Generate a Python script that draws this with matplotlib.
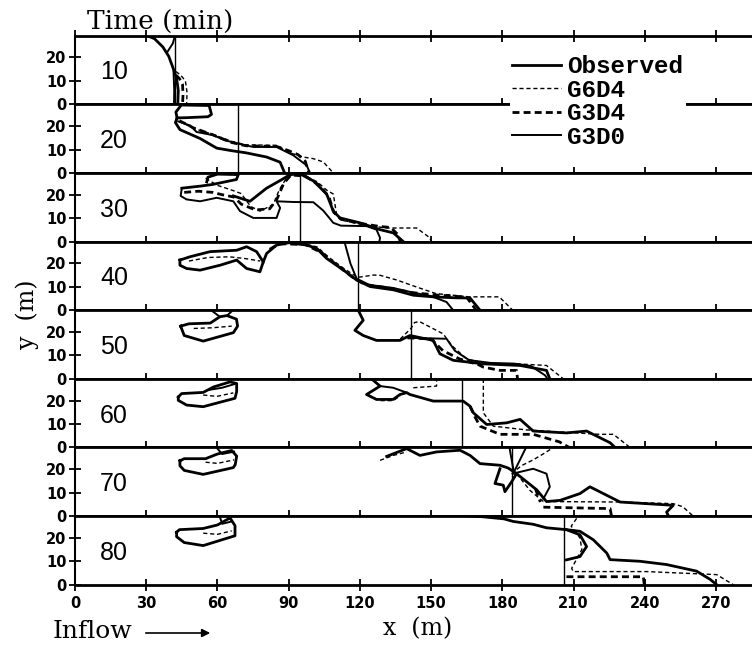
import numpy as np
import matplotlib
matplotlib.use("Agg")
import matplotlib.pyplot as plt

# flood front outlines per time step, (x m, y m); each series is a list of segments
times = [10, 20, 30, 40, 50, 60, 70, 80]
marker_x = [42, 68.7, 94.8, 119, 141.5, 163, 184, 206]

obs_10 = [[(30.5, 29.3), (33.5, 28), (37, 24.5), (39.5, 20.5), (41.3, 15.5), (42.8, 11), (43.5, 6), (43.3, 0)]]
g6_10 = [[(42.5, 14), (44.5, 12.5), (46.5, 10), (47.2, 5), (47, 0)]]
g34_10 = [[(42.5, 12.5), (44, 11), (45.3, 8.5), (45.5, 4), (45.3, 0)]]
g30_10 = [[(42.1, 29.3), (41.2, 26), (39, 22.5)], [(41.5, 14), (41.8, 6), (41.7, 0)]]

obs_20 = [[(43, 23.5), (42.5, 26), (44.8, 29), (56.5, 28.8), (57.5, 25), (56, 24), (47, 23.6), (43, 23.5),
           (42.3, 21.5), (44.2, 18.5), (48, 16.8), (52.7, 14.7), (59.7, 10.6), (66, 9.5), (72, 8.6),
           (80.7, 6.8), (86.4, 4.6), (88.3, 0)]]
g6_20 = [[(44, 22), (50, 19), (58, 16.5), (66, 13.5), (72, 12), (85, 11.8), (90.6, 8.6), (96, 6.8),
          (100.4, 6.1), (104.6, 4.7), (108.8, 0)]]
g34_20 = [[(44, 22.3), (50, 19.2), (58, 16.3), (66, 13), (72, 11.6), (85, 11.3), (90, 9.5), (94, 7.8),
           (97, 5), (98.5, 0)]]
g30_20 = [[(43.5, 22), (48.4, 20.3), (51.2, 17.5), (58.3, 16.1), (63, 14), (68.8, 12.5), (75.1, 11.1),
           (84.9, 11.1), (92, 7.5), (97.6, 3.2), (99, 0)]]

obs_30 = [[(45, 22.8), (53, 23.7), (58, 24.4), (68, 26.5), (68.8, 28.6), (60, 28.8), (56, 27.5), (55.5, 25.5)],
          [(66.7, 19.5), (73.7, 17.2), (80.7, 22.8), (87, 26.4), (90.6, 28.6), (94.8, 28.9), (100.4, 25.9),
           (106, 20.3), (108.8, 13), (111.6, 10.1), (120, 8), (128.5, 5.1), (134.1, 3.7), (138.3, 0)]]
g6_30 = [[(55, 27), (60, 24), (66, 22), (70, 20.5), (74, 15), (77.9, 13), (83.5, 15.8), (86, 22), (89, 27),
          (92, 28.8), (96, 28.5), (102, 25.5), (106, 22), (108.8, 20.3), (110.2, 11.5), (113, 9), (122, 7),
          (131.3, 5.8), (143.9, 5.8), (149.5, 1.6), (150, 0)]]
g34_30 = [[(46, 21), (52, 21.5), (58, 21), (62, 20), (67, 19), (70, 16), (76, 13.5), (82, 14), (85, 18),
           (88, 25), (91, 28.4), (97, 28), (103, 24), (107, 19), (109, 12.5), (112, 9.5), (120, 7.8),
           (128, 6.5), (133, 6), (136, 3), (137, 0)]]
g30_30 = [[(45, 22.8), (44.5, 19.5), (47, 18), (52.7, 17.2), (59.7, 18.7), (66.7, 17.2), (69.5, 13),
           (75.1, 10.1), (84.9, 10.1), (86.4, 14.4), (84.9, 17.2), (92, 16.9), (100.4, 16.8), (104.6, 13.2),
           (108.8, 8), (112, 6.8), (122.8, 6.6), (127, 5.1), (128.5, 1.6), (128.2, 0)]]

obs_40 = [[(44.2, 21.4), (48.4, 22.8), (56.9, 25), (68.1, 25.6), (72.3, 27.1), (76.5, 25), (79.3, 20.6),
           (77.9, 16.4), (72.3, 17.8), (68.1, 21.4), (61.1, 19.2), (52.7, 17.1), (47, 17.8), (44.2, 19.2),
           (44.2, 21.4)],
          [(79.3, 20.6), (80.7, 24.2), (84.9, 27.8), (90, 28.8), (97.6, 27.8), (101.8, 26.4), (106, 22.1),
           (113, 17.2), (118.6, 12.9), (124.3, 10.1), (134.1, 8.7), (142.5, 6.4), (150.9, 5.7), (160, 5.3),
           (166.4, 5.2), (170.6, 0)]]
g6_40 = [[(48, 21), (56, 22.5), (65, 22.8), (72, 22), (78, 21)],
         [(86, 28.5), (95, 28.8), (102, 27), (107, 22.5), (113, 18), (119, 14), (125.7, 15), (128.5, 14.9),
          (135.5, 12.9), (143.6, 10), (152, 7.1), (166, 5.7), (178.7, 5.7), (184.4, 0)]]
g34_40 = [[(82, 26), (86, 28.4), (97, 28), (104, 24.5), (110, 19.5), (117, 14), (122, 11), (132, 9.5),
           (142, 7.5), (152, 6.5), (160, 6), (165, 5.5), (169, 0)]]
g30_40 = [[(113.7, 28.5), (116, 20), (118.6, 13.5), (124, 10.8), (134, 9.5), (142.5, 7.5), (150, 6),
           (156.5, 3.5), (159.3, 0)]]

obs_50 = [[(44.5, 22.5), (48, 23.5), (57, 23.8), (61, 26.5), (64, 27), (68, 25.5), (68.5, 22.5), (66.7, 19.7),
           (54, 16.1), (46, 18.5), (44.5, 22.5)],
          [(119.3, 29.3), (121.4, 25), (117.9, 20.7), (121.4, 18.5), (127, 16.4), (136.9, 16.4), (141.1, 18.5),
           (150.9, 16.4), (153.7, 10.7), (159.3, 7.9), (172, 6.4), (187.5, 5.7), (198.6, 3.6), (200, 0)]]
g6_50 = [[(50, 21.5), (58, 21.8), (66, 22.5)],
         [(137, 17), (141.5, 21.5), (143, 24), (145, 24.5), (155.1, 19.2), (158.6, 14.3), (165, 8.5),
          (173.4, 6.4), (186, 6.4), (198.6, 5.7), (205.7, 0)]]
g34_50 = [[(140, 17.5), (150, 17), (155, 12), (162, 8.5), (170, 6), (172, 5), (179, 3.6), (186, 3.6), (186.4, 0)]]
g30_50 = [[(58, 28.8), (61, 26.5)], [(66, 28.8), (64, 27)],
          [(141, 17.5), (156.5, 17.1), (160, 12), (166, 8), (175, 6.8), (185, 6.5), (192, 5.5), (198, 1.5), (199, 0)]]

obs_60 = [[(43.5, 21.5), (44.9, 23), (54, 23.5), (58.3, 25.8), (65.3, 28), (68.1, 27.3), (68.1, 23.9), (67.4, 21),
           (54, 17.4), (47, 18.1), (43.5, 20.1), (43.5, 21.5)],
          [(124.9, 29.3), (128.5, 26.2), (122.8, 22.6), (127, 20.5), (134, 20.5), (136.9, 22.6), (139.7, 23.4),
           (141.1, 22.6), (150.9, 19.8), (163.5, 19.8), (166.4, 17.6), (167.8, 14.8), (173.4, 9.8),
           (181.8, 10.5), (187.5, 12), (193, 7), (207, 6.2), (215.5, 7), (225.4, 2), (227.5, 0)]]
g6_60 = [[(54, 22.4), (59.7, 21.8), (66.7, 23.3)],
         [(123.5, 22.5), (128, 20), (134, 20), (137, 22)],
         [(142.5, 25.5), (152.3, 26.2), (152.3, 29.3)],
         [(172, 29.3), (172, 14.8), (176.2, 9.1), (190, 7.5), (221, 5.6), (226.8, 5.6), (233.8, 0)]]
g34_60 = [[(166.4, 17.6), (168.5, 13), (170.6, 9.1), (179, 5.6), (193, 5.6), (204, 2.4), (208.2, 0)]]
g30_60 = [[(56, 24.5), (62, 25.5), (67, 27)],
          [(128.5, 26.2), (134, 25.5), (139.7, 23.4)]]

obs_70 = [[(44.2, 23.6), (46, 24.5), (55, 24.5), (60, 26.5), (66, 28), (68.1, 25.6), (67.5, 22), (66.7, 20.7),
           (54, 17.8), (46, 19.5), (44.2, 21.5), (44.2, 23.6)],
          [(131.3, 25.5), (139.7, 28.8), (145.3, 25.9), (152.3, 27.4), (162.2, 28.1), (166.4, 25.9),
           (170.6, 22.4), (179, 21.7), (182.5, 20.5), (186, 18.1), (194.5, 11.2), (198.6, 6.2), (204.3, 6.7),
           (212.7, 9.6), (216.9, 12.5), (229.6, 6), (240.8, 5.3), (252, 4.6), (249.2, 1.7), (250, 0)],
          [(179, 20.2), (176.9, 13.9), (180.4, 13.2), (181.1, 10.4), (183.9, 14.6), (186, 18.1)]]
g6_70 = [[(55, 23), (60, 22.5), (67, 24)],
         [(128.5, 23.8), (134.1, 25.9), (139.7, 27.4)],
         [(183.9, 18), (188, 21.5), (193, 24), (198, 27), (201.5, 29.3)],
         [(186, 18.1), (191.7, 10.9), (197.3, 6.2), (229.6, 6), (252, 5.3), (256, 4), (260.4, 0)]]
g34_70 = [[(194, 11.5), (196, 6)], [(197.3, 3.8), (225.4, 3.2), (226, 0)]]
g30_70 = [[(60, 28.8), (62, 26.5), (67, 27.5)],
          [(186, 18.5), (193, 20.2), (198.6, 18.1), (200, 12.5), (197.3, 7.4)],
          [(183, 29.3), (185, 18)], [(190, 29.3), (185, 19)]]

obs_80 = [[(42.8, 22.4), (44, 23.5), (54, 24), (60, 25.5), (65.3, 28.5), (67.4, 25.2), (67.4, 20.9), (54, 16.7),
           (46, 18), (42.8, 20.5), (42.8, 22.4)],
          [(172, 29.3), (179, 28.6), (184.6, 27), (193, 25.8), (198.6, 24.3), (207, 23.5), (212.7, 22.8),
           (218.3, 19.2), (224, 13.5), (225.4, 10.7), (238, 10), (249.2, 8.6), (261.8, 5.8), (267.5, 2.3),
           (270.3, 0)],
          [(207, 23.5), (212.7, 21.3), (215.5, 16.3), (212.7, 12), (207, 10.6)]]
g6_80 = [[(54, 22), (60, 21.5), (66, 23)],
         [(211.3, 28.3), (209, 25), (212.7, 20), (213.5, 15), (209.2, 7), (209.9, 5.6), (240.8, 5.6),
          (270.3, 4.3), (277.3, 0)]]
g34_80 = [[(207, 3.4), (239.4, 3.4), (239.8, 0)]]
g30_80 = [[(61, 29), (62, 26), (66, 27)], [(165, 29.3), (172, 28.8), (180, 28)]]

obs_all = [obs_10, obs_20, obs_30, obs_40, obs_50, obs_60, obs_70, obs_80]
g6_all = [g6_10, g6_20, g6_30, g6_40, g6_50, g6_60, g6_70, g6_80]
g34_all = [g34_10, g34_20, g34_30, g34_40, g34_50, g34_60, g34_70, g34_80]
g30_all = [g30_10, g30_20, g30_30, g30_40, g30_50, g30_60, g30_70, g30_80]

styles = [
    ("Observed", obs_all, dict(color="k", lw=2.0, ls="-")),
    ("G6D4", g6_all, dict(color="k", lw=1.0, ls=(0, (3, 2)))),
    ("G3D4", g34_all, dict(color="k", lw=2.0, ls=(0, (2.5, 1.5)))),
    ("G3D0", g30_all, dict(color="k", lw=1.4, ls="-")),
]

W, H = 752, 648
x0px, top_px, bot_px = 75, 35.7, 584.7
ph = (bot_px - top_px) / 8

fig = plt.figure(figsize=(W / 100, H / 100), dpi=100)
axes = []
for i, t in enumerate(times):
    b = 1 - (top_px + ph * (i + 1)) / H
    ax = fig.add_axes([x0px / W, b, 1 - x0px / W, ph / H])
    axes.append(ax)
    ax.set_xlim(0, (W - x0px) / 2.374)
    ax.set_ylim(0, 29.3)
    for name, series, st in styles:
        for j, seg in enumerate(series[i]):
            xs, ys = zip(*seg)
            ax.plot(xs, ys, label=name if (i == 0 and j == 0) else None,
                    solid_joinstyle="round", **st)
    ax.axvline(marker_x[i], color="k", lw=1.0)
    ax.text(16.5, 13.6, str(t), fontsize=18, family="Liberation Sans",
            ha="center", va="center")
    ax.spines["right"].set_visible(False)
    ax.spines["left"].set_linewidth(1.5)
    ax.spines["top"].set_linewidth(2.0)
    ax.spines["bottom"].set_linewidth(2.0)
    ax.set_xticks(np.arange(0, 271, 30))
    ax.set_yticks([0, 10, 20])
    ax.tick_params(axis="x", direction="inout", length=9, width=1.3,
                   top=(i == 0), labelbottom=(i == 7))
    ax.tick_params(axis="y", direction="inout", length=8, width=1.3, pad=2)
    for lab in ax.get_yticklabels() + ax.get_xticklabels():
        lab.set_fontweight("bold")
        lab.set_fontsize(10.5)

h, l = axes[0].get_legend_handles_labels()
fig.legend(h, l, loc="upper left", bbox_to_anchor=(510 / W, 1 - 53 / H),
           prop=dict(family="Liberation Mono", weight="bold", size=17.5),
           frameon=True, facecolor="white", edgecolor="none", framealpha=1,
           fancybox=False, handlelength=2.0, handletextpad=0.25,
           labelspacing=0.02, borderpad=0.1, borderaxespad=0)

fig.text(160 / W, 1 - 22 / H, "Time (min)", fontsize=19, family="DejaVu Serif",
         ha="center", va="center")
fig.text(27 / W, 1 - 314 / H, "y  (m)", fontsize=17, family="DejaVu Serif",
         ha="center", va="center", rotation=90)
fig.text(418 / W, 1 - 629 / H, "x  (m)", fontsize=17, family="DejaVu Serif",
         ha="center", va="center")
fig.text(93 / W, 1 - 631 / H, "Inflow", fontsize=18, family="DejaVu Serif",
         ha="center", va="center")
axes[-1].annotate("", xy=(213 / W, 1 - 633 / H), xytext=(143 / W, 1 - 633 / H),
                  xycoords="figure fraction", textcoords="figure fraction",
                  arrowprops=dict(arrowstyle="-|>", lw=1.2, color="k", mutation_scale=12))

fig.savefig("out.png", dpi=100)
